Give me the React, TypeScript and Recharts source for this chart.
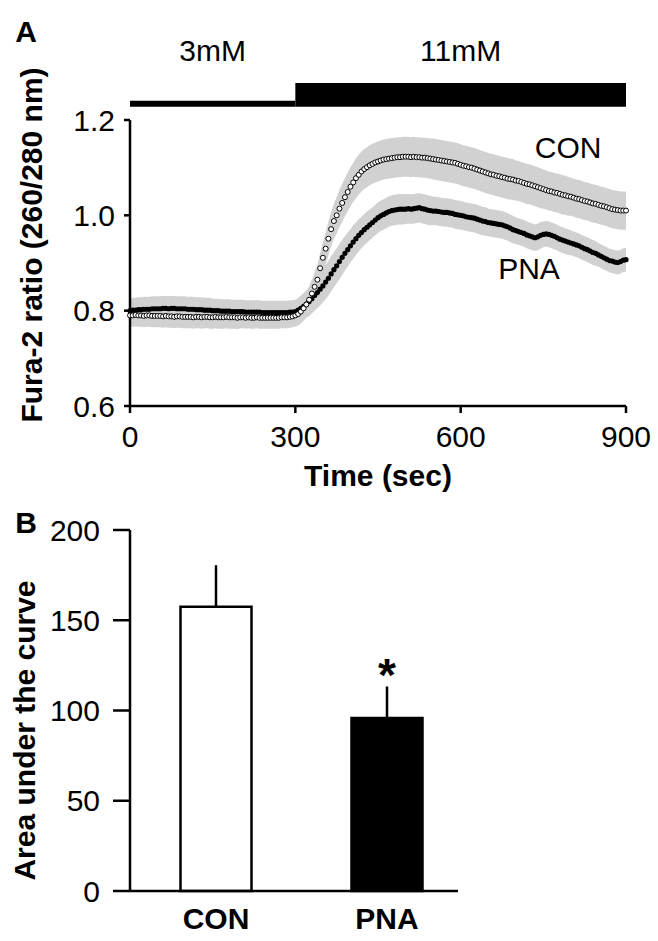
import React from 'react';
import {
  ComposedChart, Area, Line, XAxis, YAxis, ReferenceArea, ReferenceDot, Label,
  BarChart, Bar, Cell, ErrorBar, LabelList,
} from 'recharts';

const FONT = '"Liberation Sans", Arial, Helvetica, sans-serif';
const BAND = '#d1d1d1';
const AXIS = { stroke: '#000', strokeWidth: 2.5 };

// sampling interval of the Fura-2 traces (sec)
const STEP_SEC = 5;

const conMean = [
  0.790, 0.790, 0.791, 0.790, 0.790, 0.789, 0.790, 0.790, 0.789, 0.789,
  0.789, 0.789, 0.788, 0.789, 0.788, 0.788, 0.787, 0.788, 0.788, 0.787,
  0.787, 0.787, 0.787, 0.786, 0.787, 0.787, 0.786, 0.787, 0.787, 0.786,
  0.786, 0.787, 0.786, 0.786, 0.786, 0.787, 0.786, 0.786, 0.786, 0.785,
  0.786, 0.786, 0.785, 0.786, 0.785, 0.785, 0.786, 0.785, 0.785, 0.785,
  0.785, 0.785, 0.785, 0.785, 0.785, 0.786, 0.786, 0.786, 0.787, 0.788,
  0.790, 0.793, 0.798, 0.805, 0.813, 0.823, 0.836, 0.850, 0.865, 0.889,
  0.911, 0.930, 0.951, 0.971, 0.988, 1.000, 1.014, 1.026, 1.038, 1.049,
  1.060, 1.069, 1.078, 1.085, 1.092, 1.097, 1.101, 1.105, 1.108, 1.111,
  1.113, 1.115, 1.117, 1.118, 1.119, 1.120, 1.121, 1.122, 1.122, 1.123,
  1.123, 1.123, 1.122, 1.123, 1.122, 1.122, 1.121, 1.121, 1.120, 1.119,
  1.118, 1.117, 1.116, 1.115, 1.114, 1.113, 1.112, 1.111, 1.110, 1.108,
  1.106, 1.104, 1.103, 1.101, 1.100, 1.098, 1.096, 1.094, 1.092, 1.090,
  1.088, 1.086, 1.085, 1.083, 1.082, 1.080, 1.079, 1.077, 1.076, 1.075,
  1.073, 1.072, 1.070, 1.068, 1.066, 1.065, 1.063, 1.061, 1.059, 1.057,
  1.055, 1.053, 1.051, 1.050, 1.048, 1.047, 1.045, 1.043, 1.042, 1.040,
  1.039, 1.037, 1.035, 1.034, 1.032, 1.030, 1.029, 1.027, 1.025, 1.024,
  1.022, 1.020, 1.019, 1.017, 1.015, 1.013, 1.012, 1.011, 1.010, 1.010,
  1.010,
];

const conSem = [
  0.024, 0.024, 0.024, 0.024, 0.024, 0.024, 0.024, 0.024, 0.024, 0.024,
  0.024, 0.024, 0.024, 0.024, 0.024, 0.024, 0.024, 0.024, 0.024, 0.024,
  0.024, 0.024, 0.024, 0.024, 0.024, 0.024, 0.024, 0.024, 0.024, 0.024,
  0.024, 0.024, 0.024, 0.024, 0.024, 0.024, 0.024, 0.024, 0.024, 0.024,
  0.023, 0.023, 0.023, 0.023, 0.023, 0.023, 0.023, 0.023, 0.023, 0.023,
  0.023, 0.023, 0.023, 0.023, 0.023, 0.023, 0.023, 0.023, 0.023, 0.023,
  0.023, 0.024, 0.025, 0.026, 0.027, 0.028, 0.029, 0.030, 0.031, 0.032,
  0.033, 0.034, 0.035, 0.036, 0.037, 0.038, 0.039, 0.040, 0.040, 0.041,
  0.041, 0.041, 0.042, 0.042, 0.042, 0.042, 0.042, 0.042, 0.042, 0.042,
  0.042, 0.042, 0.042, 0.042, 0.042, 0.042, 0.042, 0.042, 0.042, 0.042,
  0.042, 0.042, 0.042, 0.042, 0.042, 0.042, 0.042, 0.042, 0.042, 0.042,
  0.043, 0.043, 0.043, 0.043, 0.043, 0.043, 0.043, 0.043, 0.043, 0.043,
  0.043, 0.043, 0.043, 0.043, 0.043, 0.043, 0.043, 0.043, 0.043, 0.043,
  0.043, 0.043, 0.043, 0.043, 0.043, 0.043, 0.043, 0.043, 0.043, 0.043,
  0.042, 0.042, 0.042, 0.042, 0.042, 0.042, 0.042, 0.042, 0.042, 0.042,
  0.041, 0.041, 0.041, 0.041, 0.041, 0.041, 0.041, 0.041, 0.041, 0.041,
  0.040, 0.040, 0.040, 0.040, 0.040, 0.040, 0.040, 0.040, 0.040, 0.040,
  0.040, 0.040, 0.040, 0.040, 0.040, 0.040, 0.040, 0.040, 0.040, 0.040,
  0.040,
];

const pnaMean = [
  0.800, 0.801, 0.801, 0.802, 0.802, 0.803, 0.803, 0.803, 0.804, 0.804,
  0.804, 0.804, 0.805, 0.805, 0.804, 0.805, 0.805, 0.804, 0.804, 0.804,
  0.804, 0.803, 0.803, 0.803, 0.802, 0.802, 0.802, 0.801, 0.801, 0.801,
  0.800, 0.800, 0.800, 0.799, 0.799, 0.799, 0.799, 0.798, 0.798, 0.798,
  0.798, 0.798, 0.797, 0.797, 0.797, 0.797, 0.797, 0.797, 0.796, 0.796,
  0.796, 0.796, 0.796, 0.796, 0.796, 0.796, 0.796, 0.796, 0.797, 0.797,
  0.798, 0.801, 0.805, 0.809, 0.814, 0.819, 0.825, 0.832, 0.838, 0.845,
  0.852, 0.860, 0.868, 0.877, 0.886, 0.894, 0.903, 0.912, 0.920, 0.928,
  0.936, 0.944, 0.951, 0.958, 0.964, 0.970, 0.975, 0.980, 0.985, 0.990,
  0.995, 0.999, 1.002, 1.005, 1.008, 1.010, 1.011, 1.012, 1.013, 1.013,
  1.013, 1.014, 1.013, 1.014, 1.015, 1.016, 1.014, 1.013, 1.011, 1.010,
  1.009, 1.009, 1.008, 1.007, 1.006, 1.006, 1.005, 1.004, 1.002, 1.001,
  1.000, 0.999, 0.997, 0.996, 0.995, 0.994, 0.992, 0.990, 0.988, 0.987,
  0.985, 0.984, 0.983, 0.982, 0.981, 0.980, 0.978, 0.976, 0.973, 0.970,
  0.968, 0.966, 0.964, 0.962, 0.959, 0.957, 0.955, 0.953, 0.955, 0.958,
  0.960, 0.961, 0.960, 0.958, 0.956, 0.953, 0.950, 0.948, 0.946, 0.944,
  0.942, 0.940, 0.938, 0.936, 0.933, 0.930, 0.928, 0.925, 0.922, 0.920,
  0.917, 0.914, 0.911, 0.908, 0.905, 0.904, 0.902, 0.901, 0.903, 0.906,
  0.907,
];

const pnaSem = [
  0.026, 0.026, 0.026, 0.026, 0.026, 0.026, 0.026, 0.026, 0.026, 0.026,
  0.026, 0.026, 0.026, 0.026, 0.026, 0.026, 0.026, 0.026, 0.026, 0.026,
  0.026, 0.026, 0.026, 0.026, 0.026, 0.026, 0.026, 0.026, 0.026, 0.026,
  0.025, 0.025, 0.025, 0.025, 0.025, 0.025, 0.025, 0.025, 0.025, 0.025,
  0.025, 0.025, 0.025, 0.025, 0.025, 0.025, 0.025, 0.025, 0.025, 0.025,
  0.025, 0.025, 0.025, 0.025, 0.025, 0.025, 0.025, 0.025, 0.025, 0.025,
  0.025, 0.026, 0.027, 0.028, 0.029, 0.030, 0.031, 0.032, 0.033, 0.034,
  0.035, 0.036, 0.036, 0.037, 0.037, 0.037, 0.037, 0.037, 0.036, 0.036,
  0.035, 0.035, 0.034, 0.034, 0.033, 0.033, 0.033, 0.032, 0.032, 0.032,
  0.032, 0.032, 0.032, 0.032, 0.032, 0.032, 0.032, 0.032, 0.032, 0.032,
  0.031, 0.031, 0.031, 0.031, 0.031, 0.031, 0.031, 0.031, 0.031, 0.031,
  0.030, 0.030, 0.030, 0.030, 0.030, 0.030, 0.030, 0.030, 0.030, 0.030,
  0.030, 0.030, 0.030, 0.030, 0.030, 0.030, 0.030, 0.030, 0.030, 0.030,
  0.029, 0.029, 0.029, 0.029, 0.029, 0.029, 0.029, 0.029, 0.029, 0.029,
  0.028, 0.028, 0.028, 0.028, 0.028, 0.028, 0.028, 0.028, 0.028, 0.028,
  0.027, 0.027, 0.027, 0.027, 0.027, 0.027, 0.027, 0.027, 0.027, 0.027,
  0.026, 0.026, 0.026, 0.026, 0.026, 0.026, 0.026, 0.026, 0.026, 0.026,
  0.025, 0.025, 0.025, 0.025, 0.025, 0.025, 0.025, 0.025, 0.025, 0.025,
  0.025,
];

const timeTicks = [0, 300, 600, 900];
const ratioTicks = [0.6, 0.8, 1.0, 1.2];

// glucose protocol shown above the trace
const glucoseLabels = ['3mM', '11mM'];
const glucoseStart = [0, 300];
const glucoseEnd = [300, 900];

const groups = ['CON', 'PNA'];
const aucMean = [157.5, 95.8];
const aucSem = [23, 17.5];
const aucMarks = ['', '*'];
const aucTicks = [0, 50, 100, 150, 200];

// styling of the protocol bars (ratio units above the plot), thin for 3mM, thick for 11mM
const STIM_BASE = 1.228;
const STIM_TOP = [1.2405, 1.2776];
const STIM_LABEL_OFFSET = [40, 22];

const traceData = conMean.map((v, i) => ({
  time: i * STEP_SEC,
  con: v,
  pna: pnaMean[i],
  conBand: [v - conSem[i], v + conSem[i]],
  pnaBand: [pnaMean[i] - pnaSem[i], pnaMean[i] + pnaSem[i]],
}));

const aucData = groups.map((g, i) => ({
  group: g,
  auc: aucMean[i],
  err: [0, aucSem[i]],
  mark: aucMarks[i],
}));

const tickStyle = { fontFamily: FONT, fontSize: 30, fill: '#000' };

// rotated axis title; centre line at titleX, shifted along the axis by shift px
function SideTitle(props: any) {
  const { viewBox, text, titleX, shift } = props;
  const cy = viewBox ? viewBox.y + viewBox.height / 2 + shift : 0;
  return (
    <text
      x={titleX}
      y={cy}
      transform={`rotate(-90 ${titleX} ${cy})`}
      textAnchor="middle"
      dominantBaseline="central"
      fontFamily={FONT}
      fontSize={30}
      fontWeight="bold"
      fill="#000"
    >
      {text}
    </text>
  );
}

const conDot = (p: any) => (
  <circle key={`con-${p.index}`} cx={p.cx} cy={p.cy} r={2.5} fill="#fff" stroke="#000" strokeWidth={1} />
);
const pnaDot = (p: any) => <circle key={`pna-${p.index}`} cx={p.cx} cy={p.cy} r={2.6} fill="#000" />;

function TracePanel() {
  return (
    <ComposedChart width={658} height={520} data={traceData} margin={{ top: 120, right: 32, bottom: 74, left: 0 }}>
      <XAxis
        type="number"
        dataKey="time"
        domain={[0, 900]}
        ticks={timeTicks}
        height={40}
        tickSize={7}
        tickMargin={13}
        tick={tickStyle}
        axisLine={AXIS}
        tickLine={AXIS}
      >
        <Label value="Time (sec)" position="bottom" offset={19} fontFamily={FONT} fontSize={30} fontWeight="bold" fill="#000" />
      </XAxis>
      <YAxis
        type="number"
        domain={[0.6, 1.2]}
        ticks={ratioTicks}
        allowDataOverflow
        width={130}
        tickSize={6}
        tickMargin={9}
        tick={tickStyle}
        tickFormatter={(v: number) => v.toFixed(1)}
        axisLine={AXIS}
        tickLine={AXIS}
        label={<SideTitle text="Fura-2 ratio (260/280 nm)" titleX={31} shift={-18} />}
      />
      {glucoseLabels.map((lab, i) => (
        <ReferenceArea
          key={lab}
          x1={glucoseStart[i]}
          x2={glucoseEnd[i]}
          y1={STIM_BASE}
          y2={STIM_TOP[i]}
          fill="#000"
          fillOpacity={1}
          stroke="none"
          ifOverflow="visible"
        >
          <Label value={lab} position="top" offset={STIM_LABEL_OFFSET[i]} fontFamily={FONT} fontSize={30} fill="#000" />
        </ReferenceArea>
      ))}
      <Area dataKey="conBand" type="linear" fill={BAND} fillOpacity={1} stroke="none" isAnimationActive={false} dot={false} activeDot={false} />
      <Area dataKey="pnaBand" type="linear" fill={BAND} fillOpacity={1} stroke="none" isAnimationActive={false} dot={false} activeDot={false} />
      <Line dataKey="pna" stroke="none" dot={pnaDot} activeDot={false} isAnimationActive={false} />
      <Line dataKey="con" stroke="none" dot={conDot} activeDot={false} isAnimationActive={false} />
      <ReferenceDot x={795} y={1.142} r={1} fill="none" stroke="none">
        <Label value="CON" position="center" fontFamily={FONT} fontSize={30} fill="#000" />
      </ReferenceDot>
      <ReferenceDot x={724} y={0.889} r={1} fill="none" stroke="none">
        <Label value="PNA" position="center" fontFamily={FONT} fontSize={30} fill="#000" />
      </ReferenceDot>
    </ComposedChart>
  );
}

function AucPanel() {
  return (
    <BarChart width={658} height={441} data={aucData} margin={{ top: 30, right: 200, bottom: 0, left: 0 }}>
      <XAxis
        dataKey="group"
        height={50}
        padding={{ left: 0.5, right: -14.5 }}
        tickLine={false}
        tickSize={0}
        tickMargin={17}
        tick={{ ...tickStyle, fontWeight: 'bold' }}
        axisLine={AXIS}
      />
      <YAxis
        type="number"
        domain={[0, 200]}
        ticks={aucTicks}
        width={130}
        tickSize={17}
        tickMargin={13}
        tick={tickStyle}
        axisLine={AXIS}
        tickLine={AXIS}
        label={<SideTitle text="Area under the curve" titleX={24} shift={20} />}
      />
      <Bar dataKey="auc" barSize={71} isAnimationActive={false}>
        {aucData.map((d, i) => (
          <Cell key={d.group} fill={i === 0 ? '#fff' : '#000'} stroke="#000" strokeWidth={2.5} />
        ))}
        <ErrorBar dataKey="err" width={0} stroke="#000" strokeWidth={2.5} direction="y" />
        <LabelList dataKey="mark" position="top" offset={27} fontFamily={FONT} fontSize={46} fontWeight="bold" fill="#000" />
      </Bar>
    </BarChart>
  );
}

export default function App() {
  return (
    <div style={{ position: 'absolute', left: 0, top: 0, width: 658, height: 941, background: '#fff', fontFamily: FONT }}>
      <div style={{ position: 'absolute', left: 0, top: 0 }}>
        <TracePanel />
      </div>
      <div style={{ position: 'absolute', left: 0, top: 500 }}>
        <AucPanel />
      </div>
      <svg width={658} height={941} style={{ position: 'absolute', left: 0, top: 0, pointerEvents: 'none' }}>
        <text x={26} y={42} textAnchor="middle" fontFamily={FONT} fontSize={30} fontWeight="bold" fill="#000">A</text>
        <text x={26} y={533} textAnchor="middle" fontFamily={FONT} fontSize={30} fontWeight="bold" fill="#000">B</text>
      </svg>
    </div>
  );
}
